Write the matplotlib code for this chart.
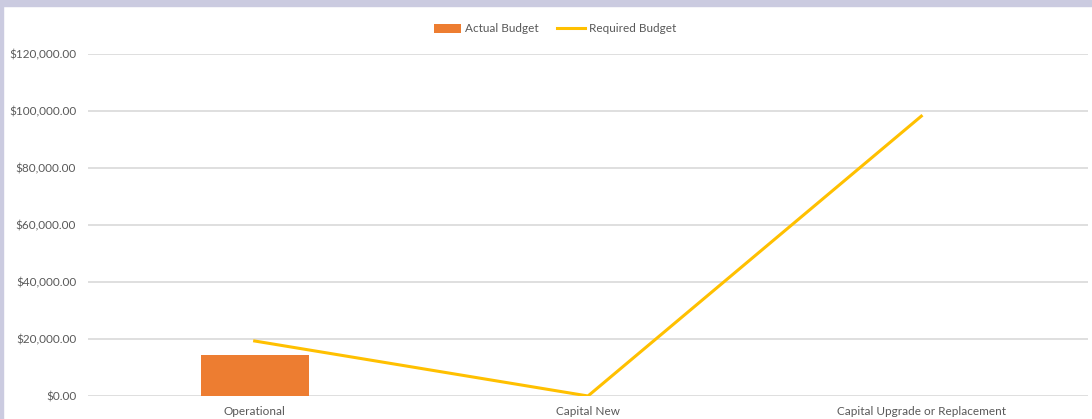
import matplotlib.pyplot as plt
import numpy as np
from matplotlib.patches import Rectangle
from matplotlib.ticker import FuncFormatter

categories = ["Operational", "Capital New", "Capital Upgrade or Replacement"]
actual_budget = [14500, 0, 0]
required_budget = [19300, 0, 98200]

plt.rcParams['font.family'] = ['Lato', 'DejaVu Sans']

fig = plt.figure(figsize=(10.92, 4.19), dpi=100)
ax = fig.add_axes([0.0806, 0.0549, 0.9157, 0.8162])

x = np.arange(len(categories))
bars = ax.bar(x, actual_budget, width=0.325, color='#ED7D31', label='Actual Budget', zorder=2)
line, = ax.plot(x, required_budget, color='#FFC000', lw=2.2, label='Required Budget',
                solid_joinstyle='round', zorder=3)

ax.set_xlim(-0.5, len(categories) - 0.5)
ax.set_ylim(0, 120000)
ax.set_yticks(np.arange(0, 120001, 20000))
ax.yaxis.set_major_formatter(FuncFormatter(lambda v, p: f"${v:,.2f}"))
ax.set_xticks(x)
ax.set_xticklabels(categories)
ax.tick_params(axis='both', length=0, labelsize=8.5, colors='#595959')
ax.tick_params(axis='y', pad=8.5)
ax.tick_params(axis='x', pad=7)
ax.grid(axis='y', color='#D9D9D9', lw=1.2, zorder=0)
for s in ax.spines.values():
    s.set_visible(False)

fig.legend([bars, line], ['Actual Budget', 'Required Budget'], loc='upper center',
           bbox_to_anchor=(0.508, 0.97), ncol=2, frameon=False, fontsize=8.5,
           labelcolor='#595959', handlelength=2.3, handleheight=0.8,
           columnspacing=1.6, handletextpad=0.35)

# thin frame band along the top and left edges
fig.patches.append(Rectangle((0, 1 - 6 / 419), 1, 6 / 419, transform=fig.transFigure,
                             color='#CBCBE0', zorder=10))
fig.patches.append(Rectangle((0, 0), 3 / 1092, 1, transform=fig.transFigure,
                             color='#CBCBE0', zorder=10))

fig.savefig('out.png', dpi=100)
